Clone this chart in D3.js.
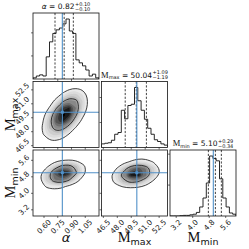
<!DOCTYPE html>
<html>
<head>
<meta charset="utf-8">
<script src="https://cdn.jsdelivr.net/npm/d3@7"></script>
<style>
  body { margin: 0; background: #fff; }
  svg { display: block; }
</style>
</head>
<body>
<div id="chart"></div>
<script>
// parameters (corner plot)
var labelMain = ["α", "M", "M"];
var labelSub = ["", "max", "min"];
var ranges = [[0.48, 1.20], [46.3, 53.4], [2.9, 6.1]];
var tickValues = [[0.60, 0.75, 0.90, 1.05], [46.5, 48.0, 49.5, 51.0, 52.5], [3.2, 4.0, 4.8, 5.6]];
var tickText = [["0.60", "0.75", "0.90", "1.05"], ["46.5", "48.0", "49.5", "51.0", "52.5"], ["3.2", "4.0", "4.8", "5.6"]];
var truths = [0.80, 50.1, 5.0];
var medians = ["0.82", "50.04", "5.10"];
var errPlus = ["0.10", "1.09", "0.29"];
var errMinus = ["0.10", "1.19", "0.34"];
var q16 = [0.72, 48.85, 4.76];
var q50 = [0.82, 50.04, 5.10];
var q84 = [0.92, 51.13, 5.39];

// 1D histograms, 20 bins each over ranges[i]
var histAlpha = [10, 26, 36, 26, 192, 322, 395, 426, 442, 478, 520, 416, 395, 166, 140, 114, 78, 26, 42, 10];
var histMmax = [29, 34, 38, 58, 106, 120, 298, 230, 336, 346, 480, 374, 298, 226, 154, 106, 62, 48, 29, 19];
var histMmin = [0, 0, 0, 5, 10, 10, 19, 29, 58, 146, 291, 534, 970, 931, 892, 601, 291, 146, 49, 29];
var histTicks = [[200, 400], [200, 400], [500, 1000]];

// 2D density grids (rows top -> bottom), with the data extent each grid covers
var densAlphaMmax = [
  [0, 0, 0, 0, .05, .15, .26, .27, .16, .06],
  [0, 0, .01, .08, .31, .72, .98, .79, .39, .11],
  [0, .01, .08, .42, 1.27, 2.31, 2.52, 1.61, .62, .14],
  [0, .05, .36, 1.47, 3.55, 5.14, 4.38, 2.23, .68, .12],
  [.02, .2, 1.1, 3.53, 6.77, 7.71, 5.22, 2.1, .5, .07],
  [.07, .53, 2.28, 5.8, 8.78, 7.9, 4.25, 1.36, .26, .03],
  [.17, .95, 3.23, 6.5, 7.8, 5.6, 2.36, .6, .09, 0],
  [.26, 1.16, 3.1, 4.95, 4.7, 2.66, .89, .18, .02, 0],
  [.27, .97, 2.04, 2.59, 1.94, .87, .23, .04, 0, 0],
  [.2, .55, .92, .92, .55, .19, .04, 0, 0, 0],
  [.1, .21, .29, .22, .1, 0, 0, 0, 0, 0]
];
var extAlphaMmax = [[0.48, 1.20], [45.945, 53.755]];

var densAlphaMmin = [
  [0, 0, 0, .01, .04, .07, .07, .05, .02, 0],
  [0, .01, .09, .32, .72, .99, .83, .43, .14, .03],
  [.02, .17, .83, 2.42, 4.36, 4.82, 3.24, 1.34, .34, .05],
  [.11, .69, 2.61, 6.13, 8.8, 7.8, 4.2, 1.41, .29, .04],
  [.18, .89, 2.74, 5.14, 5.92, 4.2, 1.83, .49, .08, 0],
  [.15, .6, 1.2, 1.5, 1.33, .76, .26, .06, 0, 0],
  [.05, .2, .4, .35, .2, .05, .02, 0, 0, 0],
  [0, .02, .04, .04, .02, 0, 0, 0, 0, 0],
  [0, 0, 0, 0, 0, 0, 0, 0, 0, 0],
  [0, 0, 0, 0, 0, 0, 0, 0, 0, 0]
];
var extAlphaMmin = [[0.44, 1.22], [2.9, 6.1]];

var densMmaxMmin = [
  [0, 0, 0, .03, .09, .16, .18, .12, .05, .02],
  [0, .02, .12, .47, 1.13, 1.72, 1.62, .95, .35, .08],
  [.02, .15, .78, 2.54, 5.14, 6.54, 5.17, 2.53, .77, .15],
  [.05, .39, 1.72, 4.72, 8.05, 8.5, 5.63, 2.33, .59, .09],
  [.06, .36, 1.32, 3.02, 4.31, 3.83, 2.13, .73, .16, .03],
  [.02, .11, .35, .67, .8, .59, .27, .08, .01, 0],
  [0, .01, .03, .05, .05, .03, .01, 0, 0, 0],
  [0, 0, 0, 0, 0, 0, 0, 0, 0, 0],
  [0, 0, 0, 0, 0, 0, 0, 0, 0, 0],
  [0, 0, 0, 0, 0, 0, 0, 0, 0, 0]
];
var extMmaxMmin = [[45.75, 53.91], [2.804, 6.004]];

var panels2d = [
  {col: 0, row: 1, grid: densAlphaMmax, ext: extAlphaMmax},
  {col: 0, row: 2, grid: densAlphaMmin, ext: extAlphaMmin},
  {col: 1, row: 2, grid: densMmaxMmin, ext: extMmaxMmin}
];
var hists = [histAlpha, histMmax, histMmin];

var fillLevels = [1.0, 1.6, 2.2, 2.9, 3.6, 4.4, 5.2, 6.0, 6.8, 7.6, 8.3];
var lineLevels = [1.0, 3.8];

// layout
var W = 249, H = 249;
var size = 66, step = 68.5, padL = 33, padT = 13;
var blue = "#5090c8";
var tickFont = "DejaVu Sans";

var svg = d3.select("#chart").append("svg")
  .attr("width", W)
  .attr("height", H);

var xScales = ranges.map(function(r, i) {
  return d3.scaleLinear().domain(r).range([padL + i * step, padL + i * step + size]);
});
var yScales = ranges.map(function(r, j) {
  return d3.scaleLinear().domain(r).range([padT + j * step + size, padT + j * step]);
});

var defs = svg.append("defs");
function clipFor(i, j) {
  var id = "clip" + i + j;
  defs.append("clipPath").attr("id", id).append("rect")
    .attr("x", padL + i * step).attr("y", padT + j * step)
    .attr("width", size).attr("height", size);
  return "url(#" + id + ")";
}

function frame(i, j) {
  svg.append("rect")
    .attr("x", padL + i * step).attr("y", padT + j * step)
    .attr("width", size).attr("height", size)
    .attr("fill", "none").attr("stroke", "#111").attr("stroke-width", 0.8);
}

function xTickMarks(i, j, showLabels) {
  var y0 = padT + j * step + size;
  tickValues[i].forEach(function(v, k) {
    var x = xScales[i](v);
    svg.append("line").attr("x1", x).attr("x2", x).attr("y1", y0).attr("y2", y0 + 2)
      .attr("stroke", "#111").attr("stroke-width", 0.6);
    if (showLabels) {
      var t = svg.append("text")
        .attr("font-family", tickFont).attr("font-size", 7.4)
        .attr("fill", "#222")
        .attr("text-anchor", "middle").attr("dominant-baseline", "central")
        .text(tickText[i][k]);
      var L = t.node().getComputedTextLength();
      var half = (L + 5.5) * Math.SQRT1_2 / 2;
      t.attr("transform", "translate(" + x + "," + (y0 + 3 + half) + ") rotate(-45)");
    }
  });
}

function yTickMarks(i, j, showLabels) {
  var x0 = padL + i * step;
  tickValues[j].forEach(function(v, k) {
    var y = yScales[j](v);
    svg.append("line").attr("x1", x0 - 2).attr("x2", x0).attr("y1", y).attr("y2", y)
      .attr("stroke", "#111").attr("stroke-width", 0.6);
    if (showLabels) {
      var t = svg.append("text")
        .attr("font-family", tickFont).attr("font-size", 7.4)
        .attr("fill", "#222")
        .attr("text-anchor", "middle").attr("dominant-baseline", "central")
        .text(tickText[j][k]);
      var L = t.node().getComputedTextLength();
      var half = (L + 5.5) * Math.SQRT1_2 / 2;
      t.attr("transform", "translate(" + (x0 - 3 - half) + "," + y + ") rotate(-45)");
    }
  });
}

// --- 1D histograms on the diagonal ---
hists.forEach(function(counts, i) {
  var x = xScales[i];
  var y = d3.scaleLinear()
    .domain([0, 1.1 * d3.max(counts)])
    .range([padT + i * step + size, padT + i * step]);
  var n = counts.length;
  var edges = d3.range(n + 1).map(function(k) {
    return ranges[i][0] + k * (ranges[i][1] - ranges[i][0]) / n;
  });
  var pts = [[edges[0], 0]];
  counts.forEach(function(c, k) { pts.push([edges[k], c]); });
  pts.push([edges[n], counts[n - 1]]);
  pts.push([edges[n], 0]);

  var g = svg.append("g").attr("clip-path", clipFor(i, i));
  g.append("path")
    .datum(pts)
    .attr("d", d3.line().x(function(d) { return x(d[0]); }).y(function(d) { return y(d[1]); })
      .curve(d3.curveStepAfter))
    .attr("fill", "none").attr("stroke", "#111").attr("stroke-width", 0.9);

  [q16[i], q50[i], q84[i]].forEach(function(q) {
    g.append("line")
      .attr("x1", x(q)).attr("x2", x(q))
      .attr("y1", padT + i * step).attr("y2", padT + i * step + size)
      .attr("stroke", "#111").attr("stroke-width", 0.8)
      .attr("stroke-dasharray", "2.2,1.6");
  });
  g.append("line")
    .attr("x1", x(truths[i])).attr("x2", x(truths[i]))
    .attr("y1", padT + i * step).attr("y2", padT + i * step + size)
    .attr("stroke", blue).attr("stroke-width", 1.1);

  frame(i, i);
  histTicks[i].forEach(function(v) {
    svg.append("line").attr("x1", padL + i * step - 2).attr("x2", padL + i * step)
      .attr("y1", y(v)).attr("y2", y(v)).attr("stroke", "#111").attr("stroke-width", 0.6);
  });
  xTickMarks(i, i, i === 2);

  // title: name = median (+err)(-err)
  var cx = padL + i * step + size / 2;
  var ty = padT + i * step - 4;
  var title = svg.append("text").attr("y", ty)
    .attr("font-family", "DejaVu Sans").attr("font-size", 7.5).attr("fill", "#111");
  if (labelSub[i]) {
    title.append("tspan").attr("font-family", "Liberation Serif").attr("font-size", 8.5).text(labelMain[i]);
    title.append("tspan").attr("font-size", 5).attr("dy", 1.5).text(labelSub[i]);
    title.append("tspan").attr("dy", -1.5).text(" = " + medians[i]);
  } else {
    title.append("tspan").attr("font-style", "italic").text(labelMain[i]);
    title.append("tspan").text(" = " + medians[i]);
  }
  var mainW = title.node().getComputedTextLength();
  var sup = svg.append("text").attr("font-family", "DejaVu Sans").attr("font-size", 5)
    .attr("fill", "#111").attr("y", ty - 3.2).text("+" + errPlus[i]);
  var sub = svg.append("text").attr("font-family", "DejaVu Sans").attr("font-size", 5)
    .attr("fill", "#111").attr("y", ty + 1.6).text("\u2212" + errMinus[i]);
  var extraW = Math.max(sup.node().getComputedTextLength(), sub.node().getComputedTextLength());
  var x0 = cx - (mainW + extraW + 0.5) / 2;
  title.attr("x", x0);
  sup.attr("x", x0 + mainW + 0.5);
  sub.attr("x", x0 + mainW + 0.5);
});

// --- 2D density panels ---
var shade = d3.scaleLinear().domain([1.0, 8.3]).range([0.16, 1.0]);
panels2d.forEach(function(p) {
  var x = xScales[p.col], y = yScales[p.row];
  var rows = p.grid.length, cols = p.grid[0].length;
  var flat = [].concat.apply([], p.grid);
  var gx = d3.scaleLinear().domain([0, cols]).range(p.ext[0]);
  var gy = d3.scaleLinear().domain([0, rows]).range([p.ext[1][1], p.ext[1][0]]);
  var ring = d3.line()
    .x(function(d) { return x(gx(d[0])); })
    .y(function(d) { return y(gy(d[1])); })
    .curve(d3.curveBasisClosed);
  function pathFor(geom) {
    return geom.coordinates.map(function(poly) {
      return poly.map(function(r) { return ring(r.slice(0, -1)); }).join("");
    }).join("");
  }

  var g = svg.append("g").attr("clip-path", clipFor(p.col, p.row));
  d3.contours().size([cols, rows]).thresholds(fillLevels)(flat).forEach(function(c) {
    g.append("path").attr("d", pathFor(c))
      .attr("fill", d3.interpolateGreys(shade(c.value)))
      .attr("stroke", "none");
  });
  d3.contours().size([cols, rows]).thresholds(lineLevels)(flat).forEach(function(c) {
    g.append("path").attr("d", pathFor(c))
      .attr("fill", "none").attr("stroke", "#111").attr("stroke-width", 0.8);
  });

  var tx = x(truths[p.col]), tyy = y(truths[p.row]);
  g.append("line").attr("x1", tx).attr("x2", tx)
    .attr("y1", padT + p.row * step).attr("y2", padT + p.row * step + size)
    .attr("stroke", blue).attr("stroke-width", 1.1);
  g.append("line").attr("y1", tyy).attr("y2", tyy)
    .attr("x1", padL + p.col * step).attr("x2", padL + p.col * step + size)
    .attr("stroke", blue).attr("stroke-width", 1.1);
  g.append("rect").attr("x", tx - 1.5).attr("y", tyy - 1.5).attr("width", 3).attr("height", 3)
    .attr("fill", blue);

  frame(p.col, p.row);
  xTickMarks(p.col, p.row, p.row === 2);
  yTickMarks(p.col, p.row, p.col === 0);
});

// --- axis labels ---
function axisLabel(i, xPos, yPos, rotate) {
  var t = svg.append("text")
    .attr("text-anchor", "middle")
    .attr("fill", "#111")
    .attr("transform", "translate(" + xPos + "," + yPos + ")" + (rotate ? " rotate(-90)" : ""));
  if (labelSub[i]) {
    t.append("tspan").attr("font-family", "Liberation Serif").attr("font-size", 14.5).text(labelMain[i]);
    t.append("tspan").attr("font-family", "DejaVu Sans").attr("font-size", 9.5).attr("dy", 2.5).text(labelSub[i]);
  } else {
    t.append("tspan").attr("font-family", "DejaVu Sans").attr("font-style", "italic")
      .attr("font-size", 13).text(labelMain[i]);
  }
}
[0, 1, 2].forEach(function(i) {
  axisLabel(i, padL + i * step + size / 2, 242, false);
});
[1, 2].forEach(function(j) {
  axisLabel(j, 15, padT + j * step + size / 2, true);
});
</script>
</body>
</html>
